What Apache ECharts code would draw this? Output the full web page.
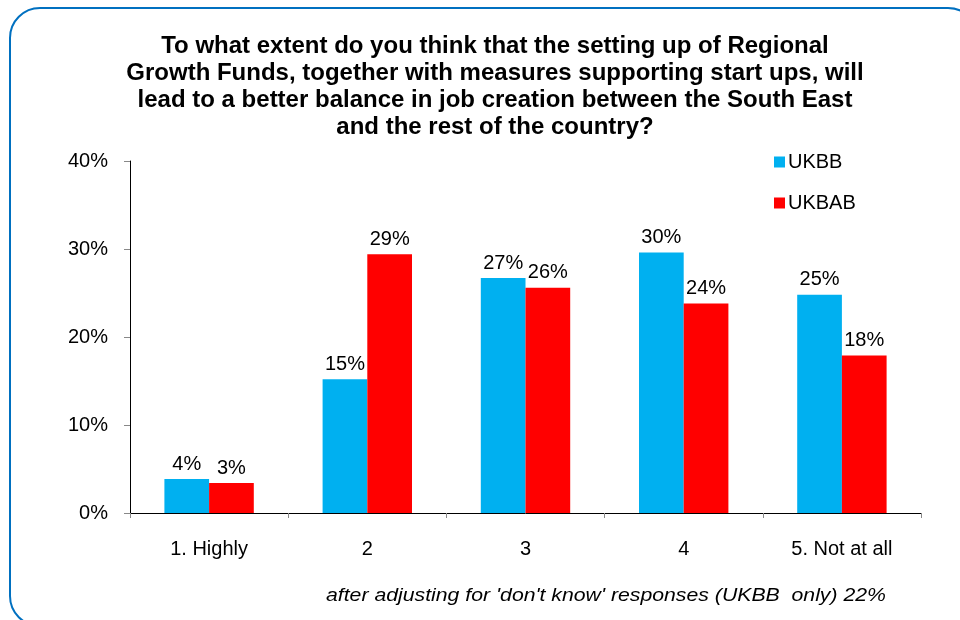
<!DOCTYPE html>
<html>
<head>
<meta charset="utf-8">
<script src="https://cdn.jsdelivr.net/npm/echarts@6/dist/echarts.min.js"></script>
<style>
  html, body { margin: 0; padding: 0; background: #fff; }
  #chart { width: 960px; height: 620px; }
</style>
</head>
<body>
<div id="chart"></div>
<script>
const titleText = 'To what extent do you think that the setting up of Regional\nGrowth Funds, together with measures supporting start ups, will\nlead to a better balance in job creation between the South East\nand the rest of the country?'
const categories = ['1. Highly', '2', '3', '4', '5. Not at all']
const ukbb = [3.86, 15.2, 26.7, 29.6, 24.8]
const ukbab = [3.4, 29.4, 25.6, 23.8, 17.9]
const footnote = "after adjusting for 'don't know' responses (UKBB  only) 22%"

const font = '"Liberation Sans", Arial, sans-serif'
const chart = echarts.init(document.getElementById('chart'))

const label = {
  show: true,
  position: 'top',
  distance: 5,
  color: '#000',
  fontFamily: font,
  fontSize: 20,
  formatter: p => Math.round(p.value) + '%'
}

chart.setOption({
  animation: false,
  textStyle: { fontFamily: font },
  title: {
    text: titleText,
    left: 490,
    textAlign: 'center',
    top: 28,
    textStyle: {
      fontFamily: font,
      fontWeight: 'bold',
      fontSize: 24,
      lineHeight: 27,
      color: '#000'
    }
  },
  legend: {
    orient: 'vertical',
    left: 769,
    top: 147,
    itemWidth: 11,
    itemHeight: 11,
    itemGap: 21,
    icon: 'rect',
    textStyle: { fontFamily: font, fontSize: 20, color: '#000', padding: [0, 0, 0, -2] },
    data: ['UKBB', 'UKBAB']
  },
  grid: { left: 130, right: 39, top: 161, bottom: 107, containLabel: false },
  xAxis: {
    type: 'category',
    data: categories,
    axisLine: { lineStyle: { color: '#000', width: 1 } },
    axisTick: { show: true, length: 5, lineStyle: { color: '#888' } },
    axisLabel: { color: '#000', fontSize: 20, fontFamily: font, margin: 26 }
  },
  yAxis: {
    type: 'value',
    min: 0,
    max: 40,
    interval: 10,
    splitLine: { show: false },
    axisLine: { show: true, lineStyle: { color: '#000', width: 1 } },
    axisTick: { show: true, length: 6, lineStyle: { color: '#888' } },
    axisLabel: { color: '#000', fontSize: 20, fontFamily: font, margin: 22, formatter: '{value}%' }
  },
  series: [
    {
      name: 'UKBB',
      type: 'bar',
      data: ukbb,
      barWidth: 44.7,
      barGap: '0%',
      itemStyle: { color: '#00B0F0' },
      label: label
    },
    {
      name: 'UKBAB',
      type: 'bar',
      data: ukbab,
      barWidth: 44.7,
      itemStyle: { color: '#FF0000' },
      label: label
    }
  ],
  graphic: [
    {
      type: 'rect',
      shape: { x: 10, y: 8, width: 968, height: 618, r: 30 },
      style: { fill: null, stroke: '#0070C0', lineWidth: 2 },
      silent: true,
      z: -1
    },
    {
      type: 'text',
      x: 326,
      y: 587,
      scaleX: 1.18,
      style: {
        text: footnote,
        fontFamily: font,
        fontStyle: 'italic',
        fontSize: 18,
        fill: '#000'
      }
    }
  ]
})
</script>
</body>
</html>
